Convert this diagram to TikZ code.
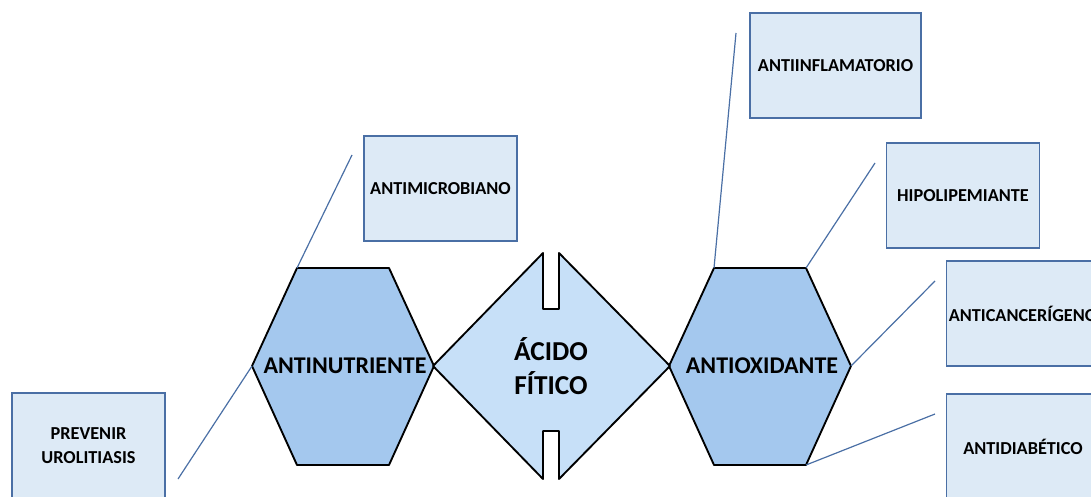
\documentclass[tikz,border=0pt]{standalone}
\usepackage{fontspec}
\setmainfont{Carlito}
\definecolor{hexfill}{HTML}{A4C8EE}
\definecolor{acidfill}{HTML}{C7E0F8}
\definecolor{boxfill}{HTML}{DDEAF6}
\definecolor{boxline}{HTML}{4A6FA5}

\tikzset{
    box/.style={draw=boxline,fill=boxfill,line width=1pt,inner sep=0pt,
        minimum width=114.75pt,minimum height=78.75pt,align=center,
        font=\fontsize{13.7}{17.5}\selectfont\bfseries},
    link/.style={draw=boxline,line width=0.9pt},
    hexlabel/.style={font=\fontsize{18}{20}\selectfont\bfseries},
}

\begin{document}
\begin{tikzpicture}[x=0.75pt,y=-0.75pt]
    \useasboundingbox (0,0) rectangle (1091,496);
    \clip (0,0) rectangle (1091,496);

    % the two hexagons
    \foreach \cx/\name/\desc in {343/nut/ANTINUTRIENTE, 760/oxi/ANTIOXIDANTE} {
        \begin{scope}[xshift=\cx*0.75pt]
            \draw[fill=hexfill,line width=1.4pt,line join=round]
                (-46,268) coordinate (\name-tl) -- (46,268) coordinate (\name-tr)
                -- (91,366) coordinate (\name-r) -- (46,465) coordinate (\name-br)
                -- (-46,465) coordinate (\name-bl) -- (-91,366) coordinate (\name-l) -- cycle;
            \node[hexlabel] (\name) at (2,366) {\desc};
        \end{scope}
    }

    % acido fitico
    \draw[fill=acidfill,line width=1.4pt,line join=round]
        (433,366) -- (543,253) -- (543,309) -- (559,309) -- (559,253) -- (670,366)
        -- (559,479) -- (559,431) -- (543,431) -- (543,479) -- cycle;
    \node[font=\fontsize{20.5}{25}\selectfont\bfseries,align=center] (acido) at (551,366) {ÁCIDO\\FÍTICO};

    % boxes
    \node[box] (micro) at (440.5,188.5) {ANTIMICROBIANO};
    \node[box,minimum width=128.25pt] (infl) at (835.5,65.5) {ANTIINFLAMATORIO};
    \node[box] (hipo) at (963,195.5) {HIPOLIPEMIANTE};
    \node[box] (cancer) at (1023,313.5) {ANTICANCERÍGENO};
    \node[box] (diab) at (1023,446.5) {ANTIDIABÉTICO};
    \node[box] (prev) at (88.5,445.5) {PREVENIR\\UROLITIASIS};

    % free ends of the links
    \coordinate (micro-end) at (352,155);
    \coordinate (prev-end) at (178,479);
    \coordinate (infl-end) at (736,33);
    \coordinate (hipo-end) at (875,163);
    \coordinate (cancer-end) at (935,281);
    \coordinate (diab-end) at (935,414);

    \draw[link] (nut-tl) -- (micro-end);
    \draw[link] (nut-l) -- (prev-end);
    \draw[link] (oxi-tl) -- (infl-end);
    \draw[link] (oxi-tr) -- (hipo-end);
    \draw[link] (oxi-r) -- (cancer-end);
    \draw[link] (oxi-br) -- (diab-end);
\end{tikzpicture}
\end{document}
